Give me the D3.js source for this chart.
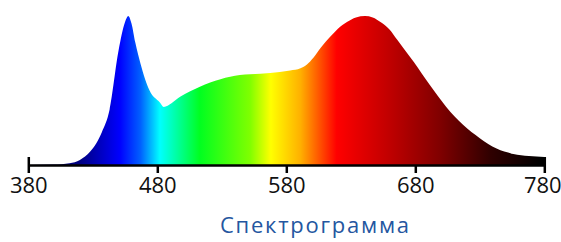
<!DOCTYPE html>
<html>
<head>
<meta charset="utf-8">
<script src="https://cdn.jsdelivr.net/npm/d3@7"></script>
<style>
  body { margin: 0; background: #fff; }
  svg { display: block; }
</style>
</head>
<body>
<svg id="chart" width="561" height="242"></svg>
<script>
// wavelength (nm) and relative intensity
const wavelengths = [380, 400, 412, 420, 428, 437, 443, 450, 455, 457.5, 460, 463, 467, 474, 482, 485,
  491, 498, 513, 529, 544, 560, 575, 583, 591, 596, 601, 607, 614, 620, 627, 634, 641, 647, 653, 660, 666,
  672, 679, 691, 704, 717, 730, 743, 756, 768, 780];
const intensity = [0, 0.003, 0.012, 0.034, 0.09, 0.22, 0.37, 0.77, 0.96, 1.0, 0.95, 0.82, 0.68, 0.50, 0.42, 0.39,
  0.415, 0.459, 0.526, 0.576, 0.604, 0.612, 0.625, 0.635, 0.65, 0.675, 0.72, 0.79, 0.86, 0.915, 0.96, 0.99, 1.0, 0.99, 0.96, 0.91, 0.84,
  0.77, 0.69, 0.54, 0.39, 0.27, 0.18, 0.11, 0.074, 0.06, 0.054];

// colour of the fill at each wavelength
const stopNm = [380, 420, 451, 467, 482, 513, 552, 568, 591, 619, 660, 699, 738, 777];
const stopColor = ["#000070", "#000080", "#0000ff", "#0060ff", "#00ffff", "#00ff20", "#80ff00", "#ffff00",
  "#ffb000", "#ff0000", "#c00000", "#800000", "#300000", "#000000"];

const tickValues = [380, 480, 580, 680, 780];
const title = "Спектрограмма";

const svg = d3.select("#chart");

const x = d3.scaleLinear().domain([380, 780]).range([28.3, 544.3]);
const y = d3.scaleLinear().domain([0, 1]).range([165, 16]);

// gradient across the wavelength range
let grad = svg.append("defs").append("linearGradient")
  .attr("id", "spec")
  .attr("gradientUnits", "userSpaceOnUse")
  .attr("x1", x(380)).attr("x2", x(780))
  .attr("y1", 0).attr("y2", 0);

stopNm.forEach((nm, i) => {
  grad.append("stop")
    .attr("offset", (nm - 380) / 400)
    .attr("stop-color", stopColor[i]);
});

let pts = wavelengths.map((w, i) => [w, intensity[i]]);

let area = d3.area()
  .x(d => x(d[0]))
  .y0(y(0))
  .y1(d => y(d[1]))
  .curve(d3.curveMonotoneX);

svg.append("path")
  .datum(pts)
  .attr("d", area)
  .attr("fill", "url(#spec)");

// axis
let axis = svg.append("g")
  .attr("transform", `translate(0,${y(0)})`)
  .call(d3.axisBottom(x).tickValues(tickValues).tickSizeInner(8).tickSizeOuter(0).tickPadding(4));

axis.select(".domain").attr("stroke", "#000").attr("stroke-width", 2.5);
axis.selectAll(".tick line").attr("stroke", "#000").attr("stroke-width", 2.5);
axis.selectAll(".tick text")
  .attr("fill", "#111")
  .style("font-family", "'Open Sans', sans-serif")
  .style("font-size", "22px");

// end caps reach above the line
axis.selectAll(".tick")
  .filter(d => d == 380 || d == 780)
  .select("line")
  .attr("y1", -8);

// last label sits a touch left, as in the picture
axis.selectAll(".tick")
  .filter(d => d == 780)
  .select("text")
  .attr("dx", -2);

svg.append("text")
  .attr("x", 220)
  .attr("y", 233)
  .attr("textLength", 189)
  .attr("lengthAdjust", "spacing")
  .attr("fill", "#2456a0")
  .style("font-family", "'Open Sans', sans-serif")
  .style("font-size", "22px")
  .text(title);
</script>
</body>
</html>
